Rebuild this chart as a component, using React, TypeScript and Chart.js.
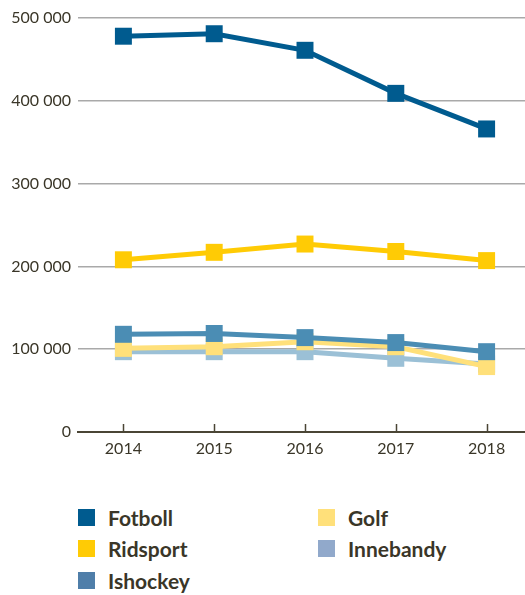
import React, { useEffect, useRef } from "react";
import { Chart, registerables } from "chart.js";

Chart.register(...registerables);

const years = ["2014", "2015", "2016", "2017", "2018"];
const fotboll = [478000, 481000, 461000, 409000, 366000];
const ridsport = [208000, 217000, 227000, 218000, 207000];
const ishockey = [118000, 119000, 114000, 108000, 97000];
const golf = [101000, 103000, 109000, 103000, 79000];
const innebandy = [97000, 97000, 97000, 89000, 82000];
const yTicks = [0, 100000, 200000, 300000, 400000, 500000];

const TEXT = "#3a3628";

const legendItems = [
  { label: "Fotboll", color: "#005b8f", col: 0, row: 0 },
  { label: "Ridsport", color: "#ffcb05", col: 0, row: 1 },
  { label: "Ishockey", color: "#4f7ea9", col: 0, row: 2 },
  { label: "Golf", color: "#ffe07a", col: 1, row: 0 },
  { label: "Innebandy", color: "#91a9cb", col: 1, row: 1 },
];

const upTicks = {
  id: "upTicks",
  afterDraw(chart: any) {
    const x = chart.scales.x;
    const ctx = chart.ctx;
    const bottom = chart.chartArea.bottom;
    ctx.save();
    ctx.strokeStyle = "#4a4535";
    ctx.lineWidth = 1.5;
    years.forEach((_, i) => {
      const px = Math.round(x.getPixelForValue(i)) + 0.5;
      ctx.beginPath();
      ctx.moveTo(px, bottom);
      ctx.lineTo(px, bottom - 8);
      ctx.stroke();
    });
    ctx.restore();
  },
};

function ds(label: string, data: number[], color: string) {
  return {
    label,
    data,
    borderColor: color,
    backgroundColor: color,
    borderWidth: 5,
    pointStyle: "rect" as const,
    pointRadius: 12,
    pointHoverRadius: 12,
    pointBorderWidth: 0,
    pointBackgroundColor: color,
    tension: 0,
  };
}

export default function App() {
  const ref = useRef<HTMLCanvasElement | null>(null);
  useEffect(() => {
    if (!ref.current) return;
    const chart = new Chart(ref.current, {
      type: "line",
      data: {
        labels: years,
        datasets: [
          ds("Fotboll", fotboll, "#005b8f"),
          ds("Ridsport", ridsport, "#ffcb05"),
          ds("Ishockey", ishockey, "#4b8db4"),
          ds("Golf", golf, "#ffe07a"),
          ds("Innebandy", innebandy, "#9bc0d6"),
        ],
      },
      options: {
        animation: false,
        responsive: false,
        maintainAspectRatio: false,
        layout: { padding: { top: 18, right: 9, left: 0, bottom: 0 } },
        plugins: { legend: { display: false }, tooltip: { enabled: false } },
        scales: {
          x: {
            offset: true,
            grid: { display: false, drawTicks: false },
            border: { display: true, color: "#4a4535", width: 2 },
            ticks: {
              color: TEXT,
              padding: 7,
              font: { family: "Lato", size: 16 },
              maxRotation: 0,
            },
            afterFit(scale: any) {
              scale.height = 38;
            },
          },
          y: {
            min: 0,
            max: 500000,
            afterBuildTicks(scale: any) {
              scale.ticks = yTicks.map((v) => ({ value: v }));
            },
            grid: {
              drawTicks: false,
              color: (c: any) => (c.tick && c.tick.value === 0 ? "rgba(0,0,0,0)" : "#a9a9a9"),
              lineWidth: 1.5,
            },
            border: { display: false },
            ticks: {
              color: TEXT,
              padding: 7,
              font: { family: "Lato", size: 16 },
              callback: (v: any) => {
                const n = Number(v);
                if (n === 0) return "0";
                const s = String(n);
                return s.slice(0, s.length - 3) + " " + s.slice(-3);
              },
            },
            afterFit(scale: any) {
              scale.width = 78;
            },
          },
        },
      },
      plugins: [upTicks],
    });
    return () => chart.destroy();
  }, []);

  return (
    <div
      style={{
        position: "fixed",
        left: 0,
        top: 0,
        width: 525,
        height: 595,
        overflow: "hidden",
        background: "#fff",
        fontFamily: "Lato, sans-serif",
      }}
    >
      <canvas
        ref={ref}
        width={544}
        height={470}
        style={{ position: "absolute", left: 0, top: 0, width: 544, height: 470 }}
      />
      {legendItems.map((it) => (
        <div
          key={it.label}
          style={{
            position: "absolute",
            left: it.col === 0 ? 78 : 318,
            top: 504 + it.row * 31.5,
            height: 26,
            display: "flex",
            alignItems: "center",
          }}
        >
          <div style={{ width: 17, height: 17, background: it.color }} />
          <span
            style={{
              marginLeft: 13,
              fontWeight: 700,
              fontSize: 21,
              color: TEXT,
              whiteSpace: "nowrap",
            }}
          >
            {it.label}
          </span>
        </div>
      ))}
    </div>
  );
}
